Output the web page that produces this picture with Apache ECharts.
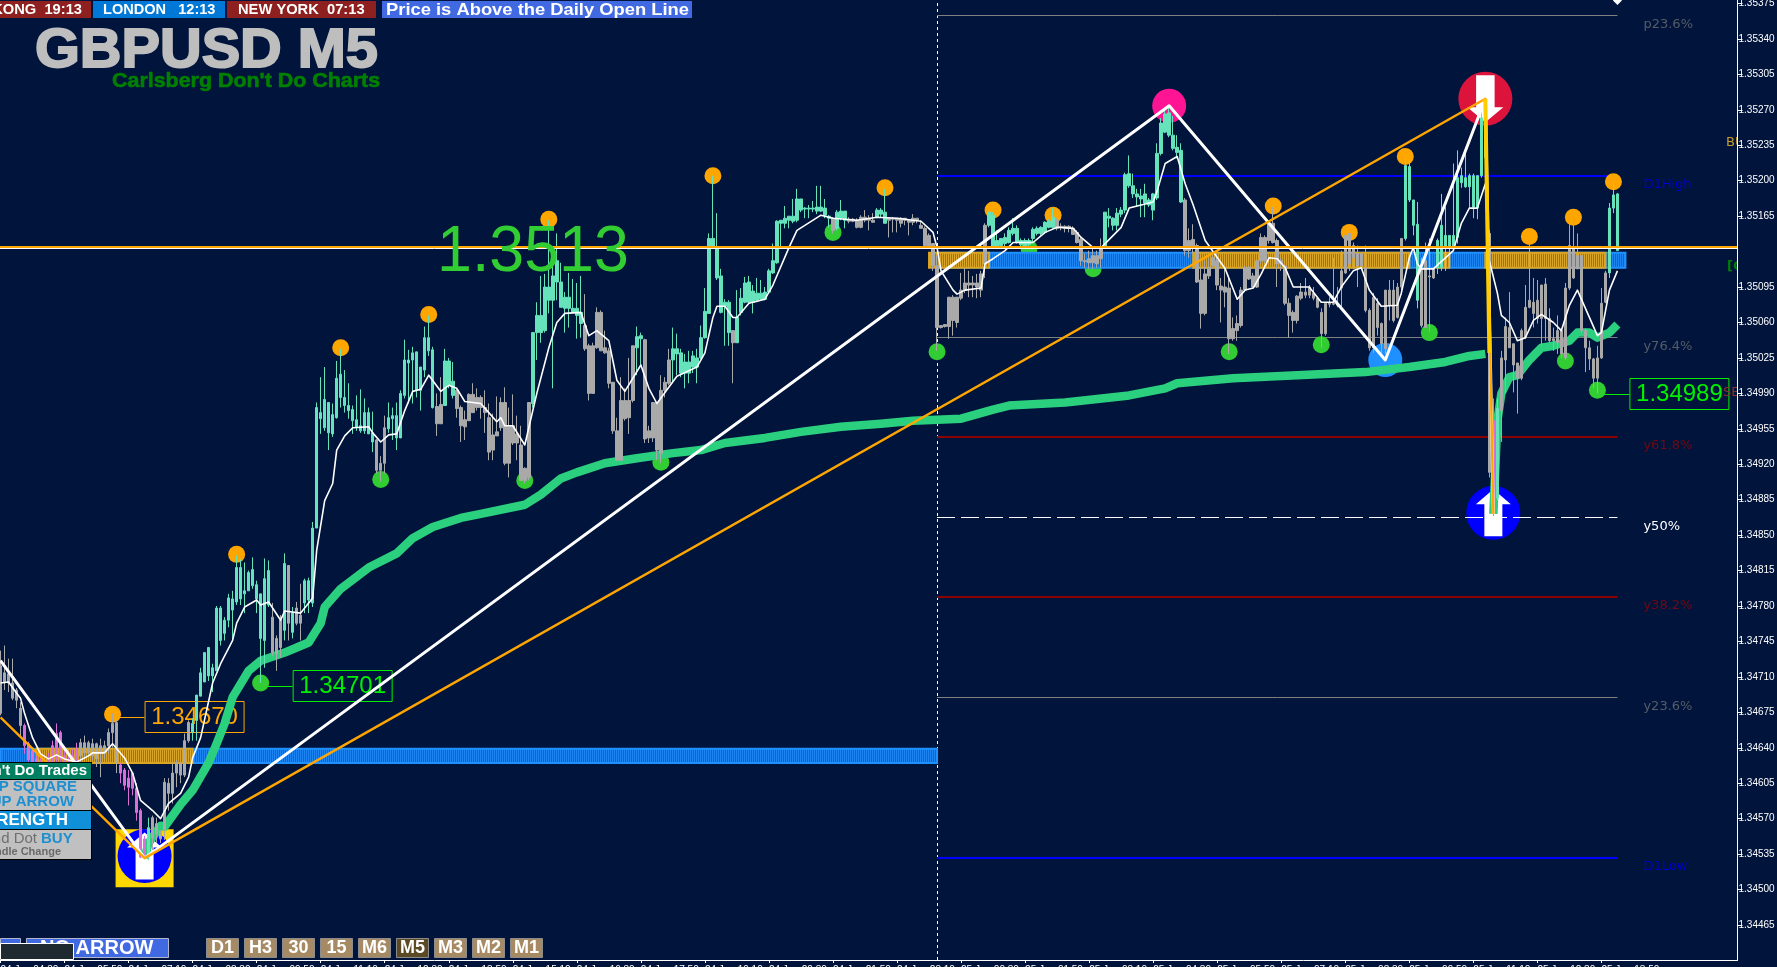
<!DOCTYPE html>
<html>
<head>
<meta charset="utf-8">
<title>GBPUSD M5</title>
<script src="https://cdn.jsdelivr.net/npm/echarts@6/dist/echarts.min.js"></script>
<style>
html, body { margin: 0; padding: 0; background: #00143c; overflow: hidden; }
#chart { width: 1777px; height: 967px; }
</style>
</head>
<body>
<div id="chart"></div>
<script>
// all prices below are in points above 1.34000 (989 = 1.34989)
const basePrice = 1.34;

const yTicks = [1.35375, 1.3534, 1.35305, 1.3527, 1.35235, 1.352, 1.35165, 1.35095, 1.3506, 1.35025, 1.3499,
  1.34955, 1.3492, 1.34885, 1.3485, 1.34815, 1.3478, 1.34745, 1.3471, 1.34675, 1.3464, 1.34605, 1.3457, 1.34535,
  1.345, 1.34465];

// one label every 16 bars
const tickLabels = ["24 Jun 04:30", "24 Jun 05:50", "24 Jun 07:10", "24 Jun 08:30", "24 Jun 09:50", "24 Jun 11:10",
  "24 Jun 12:30", "24 Jun 13:50", "24 Jun 15:10", "24 Jun 16:30", "24 Jun 17:50", "24 Jun 19:10", "24 Jun 20:30",
  "24 Jun 21:50", "24 Jun 23:10", "25 Jun 00:30", "25 Jun 01:50", "25 Jun 03:10", "25 Jun 04:30", "25 Jun 05:50",
  "25 Jun 07:10", "25 Jun 08:30", "25 Jun 09:50", "25 Jun 11:10", "25 Jun 12:30", "25 Jun 13:50"];

// [open, close, low, high], 16 bars a line
const candleRows = [
  [721,674,672,736],[714,705,697,741],[713,704,695,728],[704,689,687,728],[697,687,679,699],[679,662,650,685],[662,642,634,664],[644,628,626,646],[637,626,620,640],[629,616,610,632],[628,613,606,631],[626,610,603,629],[629,616,608,635],[642,618,612,647],[654,628,626,664],[655,628,620,657],
  [632,620,613,639],[628,616,608,635],[632,618,610,639],[639,626,620,645],[645,632,626,649],[645,635,630,652],[645,635,632,647],[644,632,628,649],[644,629,621,645],[642,635,611,649],[642,635,629,647],[655,642,634,659],[664,655,640,674],[665,625,615,667],[623,615,605,625],[618,603,598,620],
  [610,601,583,618],[615,600,593,615],[600,576,568,605],[578,532,531,580],[550,532,531,553],[532,561,529,571],[571,551,539,573],[565,555,546,571],[558,550,546,558],[606,558,549,610],[605,595,578,610],[615,595,585,625],[625,615,601,628],[625,613,605,625],[647,613,611,654],[665,647,645,667],
  [655,664,647,669],[667,692,647,692],[691,714,691,719],[705,734,705,734],[711,739,706,739],[711,719,695,723],[716,778,716,780],[746,778,741,780],[753,766,746,769],[766,788,759,792],[776,787,746,795],[784,818,781,830],[787,818,781,826],[792,795,773,823],[795,813,795,815],[800,816,797,828],
  [787,801,773,805],[748,792,704,792],[746,807,719,827],[781,815,779,825],[769,734,731,783],[748,733,716,751],[766,739,729,771],[756,822,746,832],[820,763,746,820],[754,773,748,779],[778,763,761,784],[771,763,746,802],[783,805,773,807],[786,805,773,808],[783,857,779,863],[857,976,857,981],
  [965,971,950,1006],[956,984,953,1016],[951,981,934,981],[950,969,947,980],[966,1005,965,1022],[986,1009,976,1034],[978,986,971,1013],[973,978,965,1000],[963,974,950,978],[956,964,953,988],[953,958,951,994],[953,971,950,985],[950,971,950,976],[942,951,932,972],[944,914,911,945],[921,914,903,928],
  [956,921,911,968],[955,966,951,981],[965,968,944,976],[946,968,934,981],[946,990,946,993],[988,1023,985,1043],[1020,1023,980,1033],[1023,1030,980,1036],[993,1031,986,1031],[993,1016,973,1016],[1013,1045,1006,1056],[1032,1045,1027,1067],[976,1033,975,1036],[977,960,948,990],[979,960,960,1006],[978,1022,978,1034],
  [998,1022,995,1025],[988,1002,985,1021],[993,975,966,995],[976,958,942,978],[964,957,944,973],[989,963,963,990],[989,971,971,1000],[986,976,973,995],[986,976,965,988],[976,971,951,993],[966,932,924,980],[949,934,924,970],[952,948,948,987],[981,956,953,986],[981,921,919,996],[958,921,907,976],
  [958,941,939,989],[950,941,924,968],[939,904,904,958],[916,904,901,917],[981,907,904,981],[980,1050,976,1050],[1050,1067,1023,1080],[1050,1067,1040,1106],[1052,1095,1050,1108],[1082,1095,1069,1161],[1082,1106,995,1133],[1100,1121,1082,1148],[1075,1100,1075,1119],[1074,1085,1050,1090],[1074,1085,1055,1109],[1070,1074,1070,1103],
  [1067,1074,1044,1099],[1059,1070,1045,1106],[1057,1034,1032,1088],[1037,990,983,1039],[1037,990,990,1040],[1070,1035,1034,1075],[1070,1032,1032,1072],[1035,1030,1029,1052],[1032,1000,995,1035],[1001,953,950,1001],[953,924,924,966],[983,924,924,1006],[983,965,963,995],[983,966,950,1025],[1037,983,981,1037],[1035,1046,1008,1056],
  [1044,1047,1016,1050],[1043,945,941,1044],[953,946,941,958],[981,946,942,981],[981,934,924,981],[993,931,921,1008],[1001,993,986,1006],[1023,1000,998,1034],[1023,1034,1000,1055],[1029,1034,1008,1049],[1010,1030,1006,1034],[1010,1021,995,1029],[1010,1021,1000,1032],[1016,1027,1010,1032],[1016,1025,1000,1034],[1025,1045,1024,1057],
  [1045,1071,1044,1094],[1069,1143,1069,1148],[1134,1143,1133,1205],[1104,1134,1102,1168],[1070,1106,1069,1113],[1076,1080,1037,1083],[1050,1080,1037,1082],[1052,1040,1000,1052],[1040,1065,1040,1092],[1070,1084,1067,1094],[1080,1099,1079,1105],[1080,1100,1079,1106],[1080,1091,1069,1097],[1082,1089,1080,1104],[1083,1089,1082,1102],[1083,1090,1082,1095],
  [1090,1111,1089,1113],[1109,1121,1108,1138],[1119,1160,1118,1161],[1158,1161,1134,1161],[1158,1163,1153,1175],[1161,1165,1153,1165],[1160,1165,1158,1182],[1161,1182,1159,1192],[1171,1182,1169,1182],[1172,1173,1163,1174],[1172,1173,1163,1176],[1172,1173,1169,1180],[1170,1174,1167,1195],[1170,1174,1169,1195],[1166,1173,1163,1182],[1163,1165,1154,1166],
  [1163,1151,1148,1164],[1153,1169,1151,1171],[1163,1170,1161,1181],[1161,1170,1153,1170],[1162,1160,1158,1164],[1162,1160,1159,1163],[1161,1154,1153,1163],[1164,1154,1153,1166],[1164,1161,1159,1171],[1163,1161,1151,1166],[1161,1159,1159,1168],[1164,1171,1163,1173],[1167,1171,1164,1173],[1158,1169,1158,1192],[1163,1161,1144,1163],[1163,1162,1149,1164],
  [1163,1161,1149,1163],[1163,1158,1154,1164],[1163,1161,1156,1163],[1161,1159,1146,1161],[1163,1159,1156,1167],[1163,1161,1158,1163],[1156,1153,1153,1161],[1153,1136,1134,1155],[1146,1134,1133,1148],[1138,1116,1111,1138],[1116,1055,1032,1126],[1057,1055,1054,1057],[1058,1056,1055,1058],[1085,1056,1044,1085],[1085,1062,1047,1087],[1085,1060,1055,1085],
  [1092,1084,1082,1109],[1099,1092,1089,1114],[1099,1097,1085,1111],[1099,1097,1085,1106],[1099,1095,1084,1108],[1108,1092,1085,1111],[1156,1118,1104,1158],[1156,1169,1154,1169],[1134,1166,1134,1169],[1134,1141,1134,1151],[1136,1143,1134,1143],[1138,1144,1134,1148],[1139,1151,1138,1154],[1148,1153,1146,1163],[1139,1153,1138,1156],[1137,1141,1134,1143],
  [1136,1141,1134,1143],[1137,1141,1135,1143],[1143,1152,1139,1154],[1148,1153,1146,1155],[1148,1154,1146,1155],[1149,1159,1148,1160],[1154,1160,1153,1162],[1154,1164,1153,1173],[1161,1153,1151,1163],[1155,1154,1151,1158],[1155,1153,1149,1156],[1155,1153,1149,1156],[1153,1147,1147,1155],[1149,1139,1138,1151],[1142,1121,1116,1144],[1121,1120,1114,1128],
  [1123,1119,1113,1131],[1126,1119,1113,1134],[1126,1118,1114,1131],[1134,1123,1114,1143],[1134,1169,1133,1169],[1163,1165,1154,1173],[1156,1163,1151,1164],[1156,1168,1151,1173],[1167,1171,1164,1174],[1171,1206,1168,1208],[1195,1207,1193,1225],[1187,1195,1183,1207],[1184,1187,1174,1192],[1182,1185,1164,1192],[1178,1187,1164,1197],[1176,1181,1174,1183],
  [1171,1187,1161,1188],[1183,1227,1181,1237],[1227,1257,1225,1262],[1248,1266,1247,1271],[1245,1267,1243,1274],[1232,1245,1230,1264],[1228,1233,1222,1245],[1179,1230,1178,1237],[1181,1131,1126,1183],[1141,1131,1124,1153],[1142,1134,1128,1157],[1136,1100,1099,1138],[1102,1069,1054,1114],[1108,1069,1067,1121],[1114,1106,1103,1124],[1124,1116,1114,1126],
  [1121,1097,1092,1128],[1096,1092,1060,1104],[1095,1090,1075,1114],[1094,1044,1029,1104],[1054,1044,1042,1065],[1059,1052,1042,1067],[1092,1057,1055,1095],[1114,1092,1090,1116],[1114,1103,1102,1116],[1106,1095,1094,1109],[1121,1095,1094,1121],[1144,1121,1118,1148],[1144,1121,1119,1146],[1158,1141,1138,1159],[1158,1139,1138,1174],[1141,1118,1095,1143],
  [1121,1118,1111,1124],[1116,1079,1077,1116],[1079,1067,1045,1084],[1070,1062,1050,1072],[1086,1062,1059,1087],[1090,1084,1082,1099],[1090,1087,1084,1104],[1095,1087,1084,1097],[1089,1084,1082,1095],[1084,1075,1074,1085],[1070,1049,1035,1074],[1079,1049,1047,1079],[1079,1078,1075,1085],[1079,1078,1077,1124],[1079,1077,1075,1095],[1111,1094,1075,1131],
  [1146,1109,1108,1154],[1148,1118,1111,1149],[1136,1124,1113,1139],[1128,1116,1095,1136],[1128,1116,1114,1128],[1114,1072,1070,1136],[1072,1035,1032,1074],[1085,1035,1030,1089],[1079,1055,1047,1084],[1059,1039,1029,1060],[1092,1034,1029,1092],[1092,1077,1062,1102],[1092,1062,1060,1102],[1095,1065,1064,1099],[1143,1095,1092,1143],[1143,1215,1141,1223],
  [1181,1214,1179,1220],[1156,1181,1146,1181],[1082,1157,1074,1179],[1113,1057,1055,1124],[1121,1055,1055,1139],[1106,1105,1051,1143],[1113,1104,1103,1114],[1114,1141,1108,1143],[1114,1156,1111,1187],[1134,1146,1111,1174],[1134,1146,1114,1146],[1134,1146,1134,1217],[1144,1203,1138,1230],[1198,1205,1193,1213],[1194,1203,1193,1230],[1194,1205,1173,1207],
  [1174,1205,1163,1207],[1173,1205,1162,1205],[1205,1262,1203,1271],[1223,1279,1205,1279],[1148,912,907,1151],[963,872,869,985],[887,975,884,985],[1025,973,942,1032],[1056,1023,990,1065],[1055,1035,1035,1090],[1039,1018,991,1039],[1020,1005,970,1020],[1052,1005,1003,1054],[1075,1045,1044,1097],[1082,1075,1074,1144],[1080,1069,1055,1104],
  [1082,1064,1059,1102],[1097,1064,1037,1097],[1098,1064,1042,1104],[1064,1042,1040,1074],[1044,1042,1032,1055],[1052,1040,1029,1067],[1052,1029,1025,1054],[1094,1025,1023,1099],[1136,1094,1092,1164],[1134,1104,1103,1164],[1126,1113,1113,1148],[1126,1052,1050,1126],[1052,1035,1011,1054],[1035,1024,1013,1042],[1024,1005,995,1025],[1025,1005,990,1037],
  [1079,1025,1024,1094],[1109,1080,1079,1111],[1109,1173,1104,1178],[1173,1186,1168,1198],[1131,1187,1131,1188]
];

// how many bars in a row carry each candle colour
const toneRuns = [["gray",6],["pink",14],["gray",10],["pink",7],["teal",1],["gray",10],["teal",20],["gray",3],["teal",1],
  ["gray",1],["teal",1],["gray",2],["teal",18],["gray",3],["teal",12],["gray",2],["teal",3],["gray",19],["teal",13],
  ["gray",13],["teal",2],["gray",7],["teal",15],["gray",1],["teal",24],["gray",1],["teal",3],["gray",7],["teal",3],
  ["gray",25],["teal",17],["gray",12],["teal",20],["gray",55],["teal",4],["gray",4],["teal",13],["gray",1],["pink",1],
  ["teal",1],["gray",27],["teal",3]];

// [bar, points]
const thinMa = [[0,704],[2,705],[4,694],[5,689],[6,674],[8,650],[10,634],[12,629],[14,633],[16,629],[19,626],[22,632],[23,635],[26,635],[28,644],[31,630],[33,615],[35,588],[38,578],[40,570],[42,585],[45,595],[47,611],[48,630],[50,650],[53,704],[55,723],[58,746],[59,763],[61,779],[64,786],[65,781],[67,784],[70,766],[71,775],[75,773],[78,788],[79,835],[81,884],[83,901],[84,934],[86,948],[88,956],[92,957],[93,951],[95,942],[97,949],[99,950],[101,973],[103,992],[105,994],[107,1008],[110,992],[112,998],[114,995],[116,982],[120,980],[122,971],[124,962],[125,966],[126,958],[128,958],[131,939],[132,956],[134,990],[136,1020],[137,1035],[139,1060],[141,1069],[145,1070],[147,1047],[149,1052],[152,1042],[154,1003],[156,992],[160,1018],[162,995],[164,980],[169,1007],[174,1016],[176,1030],[178,1065],[179,1076],[181,1076],[183,1065],[184,1065],[187,1079],[191,1083],[193,1097],[197,1134],[199,1151],[205,1166],[208,1163],[214,1161],[219,1164],[224,1163],[230,1160],[233,1149],[234,1134],[235,1111],[238,1092],[239,1088],[241,1092],[245,1094],[246,1118],[248,1123],[251,1131],[253,1139],[258,1139],[261,1149],[264,1154],[268,1153],[270,1144],[273,1134],[275,1134],[280,1154],[282,1173],[288,1179],[289,1190],[291,1217],[294,1224],[296,1197],[298,1176],[301,1141],[306,1113],[309,1083],[311,1092],[313,1094],[315,1108],[317,1124],[319,1123],[321,1114],[323,1095],[327,1095],[330,1080],[333,1080],[335,1095],[338,1111],[340,1114],[342,1092],[345,1076],[349,1077],[350,1089],[352,1124],[353,1134],[354,1118],[355,1113],[358,1113],[363,1131],[365,1158],[367,1173],[369,1173],[371,1197],[372,1121],[374,1089],[375,1067],[377,1060],[379,1042],[381,1045],[383,1062],[385,1068],[388,1060],[390,1052],[392,1077],[394,1092],[397,1065],[399,1047],[400,1050],[402,1092],[404,1111]];

const thickMa = [[36,531],[37,546],[40,563],[41,562],[45,584],[48,598],[52,625],[54,644],[56,664],[58,690],[62,716],[65,726],[71,734],[77,744],[80,763],[81,779],[85,797],[92,818],[99,832],[103,847],[108,858],[115,867],[120,871],[131,880],[135,890],[140,906],[144,912],[151,921],[159,926],[168,931],[175,934],[181,941],[191,946],[200,952],[210,957],[220,960],[228,963],[240,965],[248,974],[252,978],[266,981],[282,988],[291,995],[294,1000],[308,1005],[324,1008],[341,1011],[352,1016],[361,1021],[367,1027],[371,1029],[372,null],[373,871],[374,963],[375,990],[377,1006],[379,1008],[382,1023],[385,1035],[388,1037],[392,1042],[394,1050],[397,1050],[399,1045],[402,1050],[404,1058]];

const zigzagWhite = [[0,726],[36,531],[292,1274],[346,1023],[371,1281],[373,871]];
const zigzagOrange = [[0,670],[36,531],[371,1281],[373,871]];
const dropSegment = [[371,1281],[372,1030]];

const orangeDots = [[28,673],[59,831],[85,1035],[107,1068],[137,1162],[178,1205],[221,1193],[248,1171],[263,1166],[318,1175],[337,1149],[351,1224],[382,1145],[393,1164],[403,1199]];
const greenDots = [[65,704],[95,905],[131,904],[165,922],[208,1149],[234,1031],[257,1133],[273,1113],[307,1031],[330,1038],[357,1050],[391,1022],[399,993]];

const peakMarks = [[292,1274]];
const troughMarks = [[346,1023]];
const sellMarks = [[371,1281]];
const buyMarks = [[373,872],[36,533]];
const buySquare = [[36,531]];
const topDiamond = [[404,1378]];

// fibonacci and day range levels, drawn from the vertical line to the last bar
const levelNames = ["p23.6%", "D1High", "y76.4%", "y61.8%", "y50%", "y38.2%", "y23.6%", "D1Low"];
const levelPoints = [1364, 1205, 1046, 947, 868, 789, 690, 531];
const levelFromBar = 234;
const levelToBar = 404;

const currentPrice = 1.35133;

const calloutBars = [28, 65, 399];
const calloutPrices = [1.3467, 1.34701, 1.34989];

// [first bar, last bar, low, high]
const bandRanges = [[0,234,625,639],[234,406,1114,1129],[9,48,625,639],[232,247,1114,1129],[298,352,1114,1129],[359,362,1114,1129],[371,401,1114,1129]];
const bandTones = ["blue", "blue", "gold", "gold", "gold", "gold", "gold"];

const timeframes = ["D1", "H3", "30", "15", "M6", "M5", "M3", "M2", "M1"];

const toPrice = (pt) => (pt == null ? "-" : basePrice + pt / 100000);
const priced = (rows) => rows.map((r) => [r[0], toPrice(r[1])]);

const BG = "#00143c";
const SANS = '"Liberation Sans"';
const toneColor = { gray: "#a9a9a9", pink: "#da70d6", teal: "#66e3bb" };
const levelStyle = {
  "p23.6%": { color: "#808080", label: "#555c66", width: 1 },
  "D1High": { color: "#0000ff", label: "#0000d8", width: 2 },
  "y76.4%": { color: "#808080", label: "#555c66", width: 1 },
  "y61.8%": { color: "#8b0000", label: "#6e0a14", width: 2 },
  "y50%": { color: "#ffffff", label: "#ffffff", width: 1, dash: [18, 6] },
  "y38.2%": { color: "#8b0000", label: "#6e0a14", width: 2 },
  "y23.6%": { color: "#808080", label: "#555c66", width: 1 },
  "D1Low": { color: "#0000ff", label: "#0000d8", width: 2 }
};

// 435 slots 4px apart, the last 30 stay empty
const categories = [];
for (let i = 0; i < 435; i++) {
  categories.push(i % 16 === 0 && tickLabels[i / 16] ? tickLabels[i / 16] : "");
}

const barTones = [];
toneRuns.forEach((run) => {
  for (let i = 0; i < run[1]; i++) barTones.push(run[0]);
});

const candleData = candleRows.map((row, i) => {
  const c = toneColor[barTones[i]];
  return {
    value: row.map(toPrice),
    itemStyle: { color: c, color0: c, borderColor: c, borderColor0: c }
  };
});

function stripes(a, b) {
  const cv = document.createElement("canvas");
  cv.width = 2;
  cv.height = 1;
  const ctx = cv.getContext("2d");
  ctx.fillStyle = a;
  ctx.fillRect(0, 0, 1, 1);
  ctx.fillStyle = b;
  ctx.fillRect(1, 0, 1, 1);
  return { image: cv, repeat: "repeat" };
}
const bandFill = {
  blue: { fill: stripes("#1e84f2", "#1a62ba"), stroke: "#1e90ff" },
  gold: { fill: stripes("#d8a52a", "#a0702e"), stroke: "#daa520" }
};

function renderBand(params, api) {
  const a = api.coord([api.value(0), toPrice(api.value(3))]);
  const b = api.coord([api.value(1), toPrice(api.value(2))]);
  const tone = bandFill[bandTones[params.dataIndex]];
  return {
    type: "rect",
    shape: { x: a[0], y: a[1], width: b[0] - a[0], height: b[1] - a[1] },
    style: { fill: tone.fill, stroke: tone.stroke, lineWidth: 2 }
  };
}

function renderLevel(params, api) {
  const name = levelNames[params.dataIndex];
  const st = levelStyle[name];
  const a = api.coord([api.value(0), toPrice(api.value(2))]);
  const b = api.coord([api.value(1), toPrice(api.value(2))]);
  const y = Math.round(a[1]) + (st.width === 1 ? 0.5 : 0);
  return {
    type: "group",
    children: [
      { type: "line", shape: { x1: a[0], y1: y, x2: b[0], y2: y }, style: { stroke: st.color, lineWidth: st.width, lineDash: st.dash || null } },
      { type: "text", x: b[0] + 26, y: y + 9, style: { text: name, font: '13px "DejaVu Sans"', fill: st.label, textVerticalAlign: "middle" } }
    ]
  };
}

function renderStartLine(params, api) {
  const a = api.coord([api.value(0), api.value(1)]);
  const b = api.coord([api.value(0), api.value(2)]);
  const x = Math.round(a[0]) + 0.5;
  return {
    type: "line",
    shape: { x1: x, y1: a[1], x2: x, y2: b[1] },
    style: { stroke: "#ffffff", lineWidth: 1, lineDash: [3, 3] }
  };
}

function renderCallout(params, api) {
  const p = api.coord([api.value(0), api.value(1)]);
  const x = p[0];
  const y = Math.round(p[1]) + 0.5;
  const color = params.dataIndex === 0 ? "#ffa500" : "#00f000";
  return {
    type: "group",
    children: [
      { type: "line", shape: { x1: x, y1: y, x2: x + 32, y2: y }, style: { stroke: color, lineWidth: 1 } },
      { type: "rect", shape: { x: x + 32.5, y: y - 16, width: 99, height: 31 }, style: { fill: "transparent", stroke: color, lineWidth: 1 } },
      { type: "text", x: x + 82, y: y, style: { text: calloutPrices[params.dataIndex].toFixed(5), font: "24px " + SANS, fill: color, textAlign: "center", textVerticalAlign: "middle" } }
    ]
  };
}

function renderCurrent(params, api) {
  const p = api.coord([api.value(0), api.value(1)]);
  const y = Math.floor(p[1]);
  return {
    type: "group",
    children: [
      { type: "line", shape: { x1: 0, y1: y - 1, x2: 1737, y2: y - 1 }, style: { stroke: "#ffa500", lineWidth: 2 } },
      { type: "line", shape: { x1: 0, y1: y + 0.5, x2: 1737, y2: y + 0.5 }, style: { stroke: "#ffffff", lineWidth: 1 } },
      { type: "rect", shape: { x: 1740, y: y - 6, width: 37, height: 12 }, style: { fill: "#ffffff" } },
      { type: "text", x: 1743, y: y, style: { text: currentPrice.toFixed(5), font: "10px " + SANS, fill: "#000000", textVerticalAlign: "middle" } }
    ]
  };
}

function lineSeries(rows, color, width, z) {
  return {
    type: "line",
    data: priced(rows),
    z: z,
    symbol: "none",
    connectNulls: false,
    lineStyle: { color: color, width: width, join: "round" },
    silent: true
  };
}

function markSeries(rows, symbol, size, color, z) {
  return {
    type: "scatter",
    data: priced(rows),
    symbol: symbol,
    symbolSize: size,
    z: z,
    itemStyle: { color: color, opacity: 1 },
    silent: true
  };
}

function text(str, x, y, font, fill, extra) {
  return Object.assign({
    type: "text",
    x: x,
    y: y,
    z: 30,
    style: { text: str, font: font, fill: fill, textVerticalAlign: "middle" }
  }, extra || {});
}
function textRight(str, x, y, font, fill, extra) {
  const el = text(str, x, y, font, fill, extra);
  el.style.textAlign = "right";
  return el;
}
function box(x, y, w, h, fill, stroke, z) {
  return {
    type: "rect",
    z: z || 29,
    shape: { x: x, y: y, width: w, height: h },
    style: { fill: fill, stroke: stroke || null, lineWidth: stroke ? 1 : 0 }
  };
}

const timeframeEls = [];
timeframes.forEach((tf, i) => {
  const x = 206 + i * 38;
  timeframeEls.push(box(x + 0.5, 938.5, 32, 19, tf === "M5" ? "#5c4a24" : "#a68a64", "#8c8c8c"));
  const el = text(tf, x + 16.5, 948.5, "bold 18px " + SANS, "#ffffff");
  el.style.textAlign = "center";
  timeframeEls.push(el);
});

const title = text("GBPUSD M5", 35, 52, "bold 56px " + SANS, "#bebebe", { scaleX: 1.03 });
title.style.stroke = "#bebebe";
title.style.lineWidth = 2;
const subtitle = text("Carlsberg Don't Do Charts", 112, 81, "bold 21px " + SANS, "#008000", { scaleX: 1.02 });
subtitle.style.stroke = "#008000";
subtitle.style.lineWidth = 0.6;

const graphicEls = [
  // clock strip
  box(0, 1, 91, 17, "#8f2020"),
  textRight("HONG KONG  19:13", 82, 10, "bold 14px " + SANS, "#ffffff", { scaleX: 1.05 }),
  box(93, 1, 132, 17, "#0078d7"),
  text("LONDON   12:13", 103, 10, "bold 14px " + SANS, "#ffffff", { scaleX: 1.04 }),
  box(227, 1, 149, 17, "#8f2020"),
  text("NEW YORK  07:13", 238, 10, "bold 14px " + SANS, "#ffffff", { scaleX: 1.05 }),
  box(382, 1, 310, 17, "#4169e1"),
  text("Price is Above the Daily Open Line", 386, 10, "bold 17px " + SANS, "#ffffff", { scaleX: 1.08 }),

  // big labels
  title,
  subtitle,
  {
    type: "text", x: 437, y: 253, z: 28, scaleX: 0.98,
    style: { text: "1.3513", font: "64px " + SANS, fill: "#32cd32", textVerticalAlign: "middle", shadowColor: "#000000", shadowOffsetX: 2, shadowOffsetY: 2, shadowBlur: 0 }
  },

  // cut off by the price column
  text("BU", 1726, 143, '13px "DejaVu Sans"', "#c89a30", { z: 17 }),
  text("[C", 1727, 267, 'bold 13px "DejaVu Sans"', "#008000", { z: 17 }),
  text("SE", 1723, 393, '13px "DejaVu Sans"', "#8b3030", { z: 17 }),
  box(1738, 0, 39, 967, BG, null, 18),

  // panel bottom left
  box(0, 762, 92, 98, "#000000"),
  box(0, 763, 91, 16, "#008060"),
  textRight("Don't Do Trades", 87, 771, "bold 15px " + SANS, "#ffffff"),
  box(0, 780, 91, 30, "#c0c0c0"),
  textRight("UP SQUARE", 77, 787, "bold 15px " + SANS, "#1e8fd0"),
  textRight("UP ARROW", 74, 802, "bold 15px " + SANS, "#1e8fd0"),
  box(0, 811, 91, 18, "#1090d8"),
  textRight("STRENGTH", 68, 820, "bold 17px " + SANS, "#ffffff"),
  box(0, 830, 91, 29, "#c0c0c0"),
  textRight("Round Dot", 37, 839, "15px " + SANS, "#6f6f6f"),
  text("BUY", 41, 839, "bold 15px " + SANS, "#1e8fd0"),
  textRight("Candle Change", 61, 852, "bold 11px " + SANS, "#6a6a6a"),

  // button row
  box(0.5, 938.5, 20, 19, "#4169e1", "#b0b8d0"),
  box(26.5, 938.5, 142, 19, "#4169e1", "#b0b8d0"),
  text("NO ARROW", 40, 948.5, "bold 20px " + SANS, "#ffffff"),
  box(0.5, 943.5, 73, 16, "#1f2a30", "#ffffff", 31)
].concat(timeframeEls);

const chart = echarts.init(document.getElementById("chart"));

const option = {
  animation: false,
  backgroundColor: BG,
  graphic: { elements: graphicEls },
  grid: { left: 0.5, top: 0, width: 1737, height: 960, outerBoundsMode: "none" },
  xAxis: {
    type: "category",
    data: categories,
    boundaryGap: false,
    z: 19,
    axisLine: { lineStyle: { color: "#ffffff", width: 1 } },
    axisTick: {
      length: 3,
      interval: (i, v) => v !== "",
      lineStyle: { color: "#ffffff" }
    },
    axisLabel: {
      interval: (i, v) => v !== "",
      color: "#ffffff",
      fontFamily: "Liberation Sans",
      fontSize: 10,
      align: "left",
      margin: 5,
      hideOverlap: false
    },
    splitLine: { show: false }
  },
  yAxis: {
    type: "value",
    position: "right",
    min: 1.344304,
    max: 1.353785,
    z: 19,
    axisLine: { show: true, lineStyle: { color: "#ffffff", width: 1 } },
    axisTick: { show: true, length: 5, customValues: yTicks, lineStyle: { color: "#ffffff" } },
    axisLabel: {
      customValues: yTicks,
      color: "#ffffff",
      fontFamily: "Liberation Sans",
      fontSize: 10,
      margin: 1,
      formatter: (v) => v.toFixed(5)
    },
    splitLine: { show: false }
  },
  series: [
    markSeries(buySquare, "rect", 58, "#ffd700", 1),
    markSeries(buyMarks, "circle", 54, "#0000ff", 1),
    markSeries(sellMarks, "circle", 54, "#dc143c", 1),
    markSeries(peakMarks, "circle", 34, "#ff1493", 1),
    markSeries(troughMarks, "circle", 34, "#1e90ff", 1),
    markSeries(buyMarks, "path://M17.5 0L35 15L26.5 15L26.5 47L8.5 47L8.5 15L0 15Z", [35, 47], "#ffffff", 2),
    markSeries(sellMarks, "path://M8.5 0L26.5 0L26.5 32L35 32L17.5 47L0 32L8.5 32Z", [36, 47], "#ffffff", 2),
    {
      type: "custom",
      data: [[levelFromBar, 1.344304, 1.353785]],
      encode: { x: 0, y: [1, 2] },
      renderItem: renderStartLine,
      z: 3,
      silent: true
    },
    {
      type: "custom",
      data: levelPoints.map((p) => [levelFromBar, levelToBar, p]),
      encode: { x: [0, 1], y: 2 },
      renderItem: renderLevel,
      z: 3,
      silent: true
    },
    markSeries(orangeDots, "circle", 17, "#ffa500", 4),
    markSeries(greenDots, "circle", 17, "#32cd32", 4),
    {
      type: "custom",
      data: calloutBars.map((b, i) => [b, calloutPrices[i]]),
      encode: { x: 0, y: 1 },
      renderItem: renderCallout,
      z: 4,
      silent: true
    },
    {
      type: "custom",
      data: bandRanges,
      encode: { x: [0, 1], y: [2, 3] },
      renderItem: renderBand,
      z: 5,
      silent: true
    },
    lineSeries(thickMa, "#2bd07f", 8.5, 6),
    {
      type: "candlestick",
      data: candleData,
      barWidth: 3,
      z: 7,
      silent: true
    },
    lineSeries(thinMa, "#ffffff", 1.6, 8),
    lineSeries(zigzagWhite, "#ffffff", 3, 8),
    lineSeries(zigzagOrange, "#ffa500", 2.4, 8),
    lineSeries(dropSegment, "#ffcc00", 4, 9),
    {
      type: "custom",
      data: [[0, currentPrice]],
      encode: { x: 0, y: 1 },
      renderItem: renderCurrent,
      z: 9,
      silent: true
    },
    markSeries(topDiamond, "diamond", 9, "#ffffff", 9)
  ]
};

chart.setOption(option);
</script>
</body>
</html>
